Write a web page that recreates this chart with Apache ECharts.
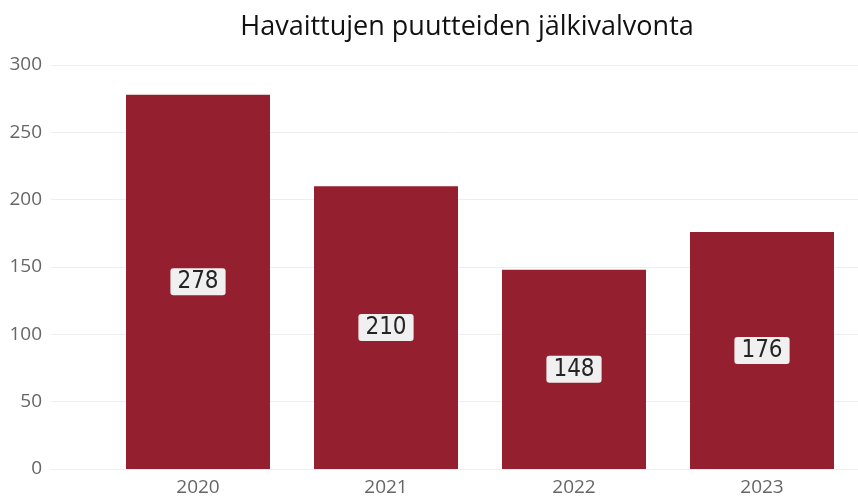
<!DOCTYPE html>
<html><head><meta charset="utf-8">
<script src="https://cdn.jsdelivr.net/npm/echarts@6/dist/echarts.min.js"></script>
<style>html,body{margin:0;padding:0;background:#fff}#c{width:858px;height:498px}</style>
</head><body><div id="c"></div>
<script>
const title = 'Havaittujen puutteiden jälkivalvonta';
const categories = ['2020', '2021', '2022', '2023'];
const values = [278, 210, 148, 176];
const yTicks = [0, 50, 100, 150, 200, 250, 300];

const chart = echarts.init(document.getElementById('c'), null, {renderer: 'canvas'});
const gridTop = 65, gridBottom = 29;
chart.setOption({
  animation: false,
  backgroundColor: '#ffffff',
  title: {
    text: title, left: 462, top: 9, textAlign: 'center',
    textStyle: {fontFamily: 'Open Sans', fontSize: 27, fontWeight: 'normal', color: '#111'}
  },
  grid: [
    {left: 51, right: 0, top: gridTop, bottom: gridBottom},
    {left: 104, width: 752, top: gridTop, bottom: gridBottom}
  ],
  xAxis: [
    {gridIndex: 0, type: 'category', data: categories, show: false},
    {gridIndex: 1, type: 'category', data: categories,
      axisLine: {show: false}, axisTick: {show: false},
      axisLabel: {color: '#666', fontFamily: 'Open Sans', fontSize: 19, margin: 9}}
  ],
  yAxis: [
    {gridIndex: 0, type: 'value', min: yTicks[0], max: yTicks[yTicks.length - 1], interval: 50,
      axisLine: {show: false}, axisTick: {show: false},
      axisLabel: {color: '#666', fontFamily: 'Open Sans', fontSize: 19, margin: 9},
      splitLine: {lineStyle: {color: '#eeeeee', width: 1}}},
    {gridIndex: 1, type: 'value', min: yTicks[0], max: yTicks[yTicks.length - 1], interval: 50,
      show: false, splitLine: {show: false}}
  ],
  series: [{
    type: 'bar', xAxisIndex: 1, yAxisIndex: 1,
    data: values, barWidth: 144,
    itemStyle: {color: '#94202f'},
    label: {
      show: true, position: 'inside',
      fontFamily: 'DejaVu Sans Condensed', fontSize: 24, lineHeight: 24, color: '#252423',
      backgroundColor: '#f0f0f0', borderRadius: 3, padding: [2, 7, 1, 7]
    }
  }]
});
</script></body></html>
